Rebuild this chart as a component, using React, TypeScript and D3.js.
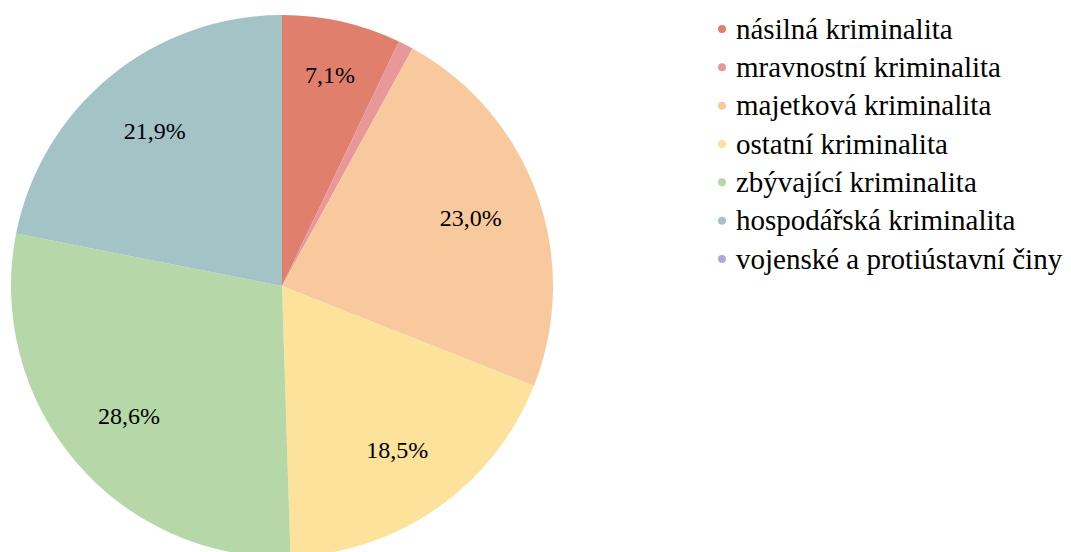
import * as d3 from "d3";

const categories = [
  "násilná kriminalita",
  "mravnostní kriminalita",
  "majetková kriminalita",
  "ostatní kriminalita",
  "zbývající kriminalita",
  "hospodářská kriminalita",
  "vojenské a protiústavní činy",
];
const shares = [7.1, 0.9, 23.0, 18.5, 28.6, 21.9, 0.0];
const colors = ["#E07F6B", "#E8989A", "#F7C99C", "#FDE29B", "#B6D7A8", "#A3C3C7", "#B4A7D6"];

const W = 1071;
const H = 552;
const FONT = "Liberation Serif";

const cx = 282;
const cy = 286;
const R = 271;

const App = () => {
  const data = categories.map((c, i) => ({ name: c, value: shares[i], color: colors[i] }));
  const arcs = d3.pie<any>().sort(null).value((d) => d.value)(data);
  const arc = d3.arc<any>().innerRadius(0).outerRadius(R);
  const legendY = d3.scalePoint().domain(categories).range([29, 259]);

  // label spot: small slices pushed a bit outward
  const labelPos = (d) => {
    const rr = d.data.value < 10 ? R * 0.8 : R * 0.74;
    const a = (d.startAngle + d.endAngle) / 2;
    return [Math.sin(a) * rr, -Math.cos(a) * rr];
  };

  return (
    <svg
      width={W}
      height={H}
      fontFamily={FONT}
      style={{ position: "absolute", left: 0, top: 0, background: "#fff", fontFamily: FONT }}
    >
      <g transform={`translate(${cx},${cy})`}>
        {arcs.map((d, i) => (
          <path key={i} d={arc(d)} fill={d.data.color} />
        ))}
        {arcs
          .filter((d) => d.data.value >= 2)
          .map((d, i) => {
            const [x, y] = labelPos(d);
            return (
              <text key={i} x={x} y={y} dy="0.35em" textAnchor="middle" fontFamily={FONT} fontSize={24} fill="#000">
                {d.data.value.toFixed(1).replace(".", ",") + "%"}
              </text>
            );
          })}
      </g>
      <g>
        {data.map((d) => (
          <g key={d.name} transform={`translate(722,${legendY(d.name)})`}>
            <circle r={4} fill={d.color} />
            <text x={14} dy="0.33em" fontFamily={FONT} fontSize={29} fill="#000">
              {d.name}
            </text>
          </g>
        ))}
      </g>
    </svg>
  );
};

export default App;
